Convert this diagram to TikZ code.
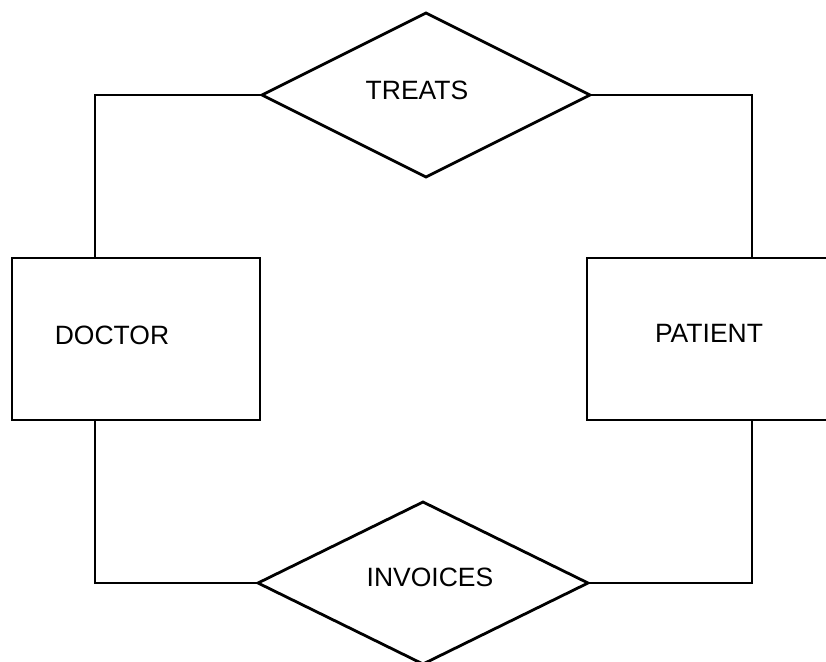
\documentclass[tikz,border=0pt]{standalone}
\usepackage{fontspec}
\setmainfont{Liberation Sans}
\usetikzlibrary{shapes.geometric}
\begin{document}
\begin{tikzpicture}[x=1pt,y=-1pt,
  every node/.style={font=\fontsize{26.5}{30}\selectfont},
  entity/.style={draw, line width=2.8pt, minimum width=248pt, minimum height=162pt, inner sep=0pt, outer sep=0pt},
  rel/.style={draw, diamond, line width=2.8pt, inner sep=0pt, outer sep=0pt},
  conn/.style={line width=2.6pt}]
\useasboundingbox (0,0) rectangle (826,661);
\node[entity, label={[xshift=-24pt,yshift=4pt]center:DOCTOR}] (doc) at (136,339) {};
\node[entity, label={[xshift=-2pt,yshift=6pt]center:PATIENT}] (pat) at (711,339) {};
\node[rel, minimum width=328pt, minimum height=164pt, label={[xshift=-9pt,yshift=5pt]center:TREATS}] (tr) at (426,95) {};
\node[rel, minimum width=330pt, minimum height=162pt, label={[xshift=7pt,yshift=6pt]center:INVOICES}] (inv) at (423,583) {};
\draw[conn] ([xshift=-41pt]doc.north) |- (tr.west);
\draw[conn] (tr.east) -| ([xshift=41pt]pat.north);
\draw[conn] ([xshift=-41pt]doc.south) |- (inv.west);
\draw[conn] (inv.east) -| ([xshift=41pt]pat.south);
\end{tikzpicture}
\end{document}
